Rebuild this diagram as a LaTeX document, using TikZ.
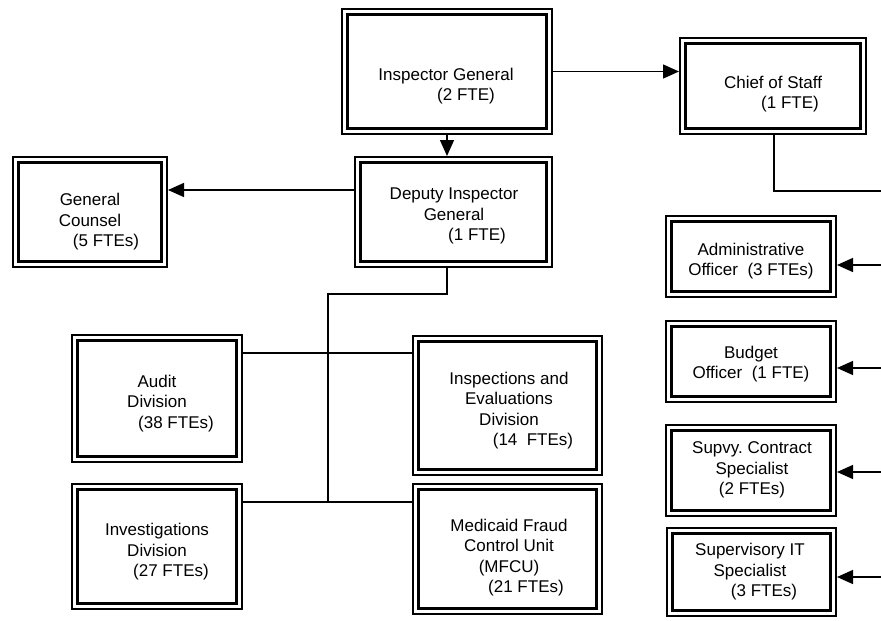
\documentclass[tikz,border=0pt]{standalone}
\usepackage{fontspec}
\setmainfont{Liberation Sans}
\usetikzlibrary{arrows.meta}
\frenchspacing
\begin{document}
\begin{tikzpicture}[x=1pt,y=-1pt,
  orgbox/.style={draw, line width=2pt, fill=white, inner sep=0pt,
    path picture={\draw[line width=3.8pt]
      ([xshift=5.5pt,yshift=-5.5pt]path picture bounding box.north west) rectangle
      ([xshift=-5.5pt,yshift=5.5pt]path picture bounding box.south east);}},
  txt/.style={align=center, font=\fontsize{17pt}{20.5pt}\selectfont, inner sep=0pt},
  conn/.style={line width=1.4pt},
  arr/.style={conn, -{Triangle[length=16pt,width=14pt]}}]
\useasboundingbox (0,0) rectangle (881,621);

% boxes
\node[orgbox, minimum width=210pt, minimum height=125pt] (ig) at (447,71.5) {};
\node[orgbox, minimum width=186pt, minimum height=96pt] (cos) at (773,86) {};
\node[orgbox, minimum width=154pt, minimum height=110pt] (gc) at (90,212) {};
\node[orgbox, minimum width=197pt, minimum height=110pt] (dig) at (453.5,212) {};
\node[orgbox, minimum width=170pt, minimum height=127pt] (audit) at (157,398.5) {};
\node[orgbox, minimum width=189pt, minimum height=139pt] (insp) at (507.5,405.5) {};
\node[orgbox, minimum width=170pt, minimum height=125pt] (inv) at (157,546.5) {};
\node[orgbox, minimum width=189pt, minimum height=130pt] (mfcu) at (507.5,549) {};
\node[orgbox, minimum width=170pt, minimum height=81pt] (admin) at (751,256.5) {};
\node[orgbox, minimum width=170pt, minimum height=81pt] (budget) at (751,361.5) {};
\node[orgbox, minimum width=170pt, minimum height=91pt] (supvy) at (751,470.5) {};
\node[orgbox, minimum width=169pt, minimum height=88pt] (supit) at (751.5,572) {};

% texts
\node[txt] (igt) at (446,86) {Inspector General\\\hspace*{40pt}(2 FTE)};
\node[txt] (cost) at (773,94) {Chief of Staff\\\hspace*{34pt}(1 FTE)};
\node[txt] (gct) at (90,221.7) {General\\Counsel\\\hspace*{32pt}(5 FTEs)};
\node[txt] (digt) at (454,216.3) {Deputy Inspector\\General\\\hspace*{46pt}(1 FTE)};
\node[txt] (auditt) at (157,403.3) {Audit\\Division\\\hspace*{38pt}(38 FTEs)};
\node[txt] (inspt) at (509,410.8) {Inspections and\\Evaluations\\Division\\\hspace*{48pt}(14\ \ FTEs)};
\node[txt] (invt) at (157,552) {Investigations\\Division\\\hspace*{28pt}(27 FTEs)};
\node[txt] (mfcut) at (509,557.5) {Medicaid Fraud\\Control Unit\\(MFCU)\\\hspace*{34pt}(21 FTEs)};
\node[txt] (admint) at (751,261) {Administrative\\Officer\ \ (3 FTEs)};
\node[txt] (budgett) at (751,364) {Budget\\Officer\ \ (1 FTE)};
\node[txt] (supvyt) at (752,470) {Supvy. Contract\\Specialist\\(2 FTEs)};
\node[txt] (supitt) at (750,571.7) {Supervisory IT\\Specialist\\\hspace*{28pt}(3 FTEs)};

% helper coordinates
\coordinate (gcy) at (0,190);
\coordinate (dj) at (447,294);
\coordinate (spine) at (328,294);
\coordinate (ay) at (0,353);
\coordinate (iy) at (328,502);
\coordinate (cj) at (774,191);
\coordinate (ce) at (881,191);
\coordinate (e1) at (881,265);
\coordinate (e2) at (881,368);
\coordinate (e3) at (881,472);
\coordinate (e4) at (881,577);

% connectors
\draw[arr] (ig.east) -- (ig.east -| cos.west);
\draw[arr] (ig.south) -- (ig.south |- dig.north);
\draw[arr] (dig.west |- gcy) -- (gc.east |- gcy);
\draw[conn] (ig.south |- dig.south) -- (dj) -- (spine) -- (iy);
\draw[conn] (audit.east |- ay) -- (insp.west |- ay);
\draw[conn] (inv.east |- iy) -- (mfcu.west |- iy);
\draw[conn] (cj |- cos.south) -- (cj) -- (ce);
\draw[arr] (e1) -- (admin.east |- e1);
\draw[arr] (e2) -- (budget.east |- e2);
\draw[arr] (e3) -- (supvy.east |- e3);
\draw[arr] (e4) -- (supit.east |- e4);
\end{tikzpicture}
\end{document}
